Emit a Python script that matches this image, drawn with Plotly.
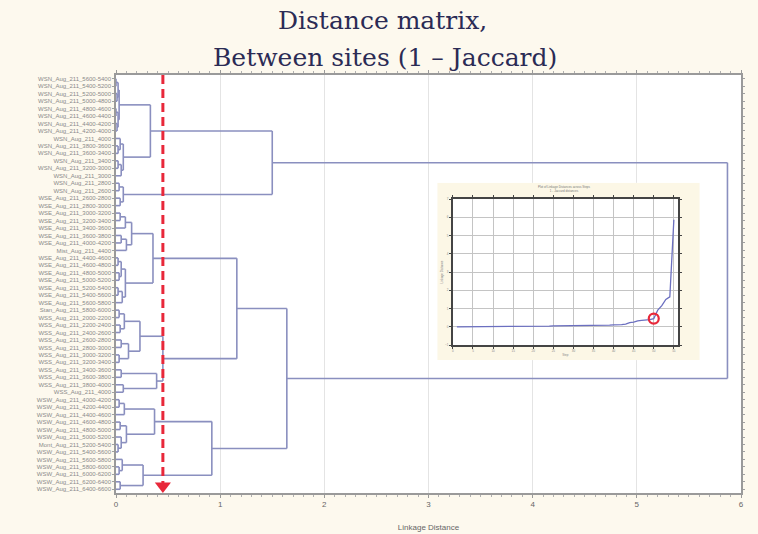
import plotly.graph_objects as go

# ---------------- data ----------------
leaf_labels = [
    "WSN_Aug_211_5600-5400", "WSN_Aug_211_5400-5200", "WSN_Aug_211_5200-5000", "WSN_Aug_211_5000-4800",
    "WSN_Aug_211_4800-4600", "WSN_Aug_211_4600-4400", "WSN_Aug_211_4400-4200", "WSN_Aug_211_4200-4000",
    "WSN_Aug_211_4000", "WSN_Aug_211_3800-3600", "WSN_Aug_211_3600-3400", "WSN_Aug_211_3400",
    "WSN_Aug_211_3200-3000", "WSN_Aug_211_3000", "WSN_Aug_211_2800", "WSN_Aug_211_2600",
    "WSE_Aug_211_2600-2800", "WSE_Aug_211_2800-3000", "WSE_Aug_211_3000-3200", "WSE_Aug_211_3200-3400",
    "WSE_Aug_211_3400-3600", "WSE_Aug_211_3600-3800", "WSE_Aug_211_4000-4200", "Mist_Aug_211_4400",
    "WSE_Aug_211_4400-4600", "WSE_Aug_211_4600-4800", "WSE_Aug_211_4800-5000", "WSE_Aug_211_5000-5200",
    "WSE_Aug_211_5200-5400", "WSE_Aug_211_5400-5600", "WSE_Aug_211_5600-5800", "Stan_Aug_211_5800-6000",
    "WSS_Aug_211_2000-2200", "WSS_Aug_211_2200-2400", "WSS_Aug_211_2400-2600", "WSS_Aug_211_2600-2800",
    "WSS_Aug_211_2800-3000", "WSS_Aug_211_3000-3200", "WSS_Aug_211_3200-3400", "WSS_Aug_211_3400-3600",
    "WSS_Aug_211_3600-3800", "WSS_Aug_211_3800-4000", "WSS_Aug_211_4000", "WSW_Aug_211_4000-4200",
    "WSW_Aug_211_4200-4400", "WSW_Aug_211_4400-4600", "WSW_Aug_211_4600-4800", "WSW_Aug_211_4800-5000",
    "WSW_Aug_211_5000-5200", "Mont_Aug_211_5200-5400", "WSW_Aug_211_5400-5600", "WSW_Aug_211_5600-5800",
    "WSW_Aug_211_5800-6000", "WSW_Aug_211_6000-6200", "WSW_Aug_211_6200-6400", "WSW_Aug_211_6400-6600",
]

# dendrogram: nested [linkage distance, left, right]; ints are leaf indices (top to bottom)
g1 = [0.03, [0.02, [0.00, 0, 1], [0.01, 2, 3]], [0.02, [0.00, 4, 5], [0.01, 6, 7]]]
g2 = [0.07, [0.04, 8, [0.02, 9, 10]], [0.05, [0.02, 11, 12], 13]]
g3 = [0.07, [0.03, 14, 15], [0.04, 16, 17]]
g4 = [0.15, [0.09, [0.04, 18, 19], 20], [0.10, [0.05, 21, 22], 23]]
g5 = [0.09, [0.05, [0.02, 24, 25], [0.03, 26, 27]], [0.06, [0.02, 28, 29], 30]]
g6 = [0.23, [0.08, [0.03, 31, 32], [0.04, 33, 34]], [0.12, [0.05, 35, 36], [0.03, 37, 38]]]
g7 = [0.39, [0.05, 39, 40], [0.07, 41, 42]]
g8 = [0.37, [0.08, [0.03, 43, 44], 45], [0.10, [0.04, 46, 47], [0.05, 48, [0.02, 49, 50]]]]
g9 = [0.26, [0.06, 51, [0.03, 52, 53]], [0.04, 54, 55]]

cluster_a = [1.50, [0.33, g1, g2], g3]
cluster_b = [1.64, [1.16, [0.355, g4, g5], [0.45, g6, g7]], [0.92, g8, g9]]
tree = [5.87, cluster_a, cluster_b]

cut_distance = 0.45
x_ticks = [0, 1, 2, 3, 4, 5, 6]

# ---------------- build dendrogram segments ----------------
seg_x, seg_y, heights = [], [], []


def walk(node):
    if isinstance(node, int):
        return float(node), 0.0
    h, a, b = node
    ya, ha = walk(a)
    yb, hb = walk(b)
    seg_x.extend([ha, h, None, hb, h, None, h, h, None])
    seg_y.extend([ya, ya, None, yb, yb, None, ya, yb, None])
    heights.append(h)
    return (ya + yb) / 2.0, h


walk(tree)
n = len(leaf_labels)
sched = sorted(heights)
steps = list(range(1, len(sched) + 1))
cut_step = max(i for i, v in zip(steps, sched) if v <= cut_distance)
cut_val = sched[cut_step - 1]

line_col = "#8a8fbf"
red = "#e8283a"

fig = go.Figure()

# main dendrogram
fig.add_trace(go.Scatter(x=seg_x, y=seg_y, mode="lines",
                         line=dict(color=line_col, width=1.6),
                         hoverinfo="skip", showlegend=False, xaxis="x", yaxis="y"))
# cut-off line + arrow
fig.add_trace(go.Scatter(x=[cut_distance, cut_distance], y=[-0.5, n - 1.6], mode="lines",
                         line=dict(color=red, width=3, dash="9px,5px"),
                         hoverinfo="skip", showlegend=False, xaxis="x", yaxis="y"))
fig.add_trace(go.Scatter(x=[cut_distance], y=[n - 1.45], mode="markers",
                         marker=dict(symbol="triangle-down", size=14, color=red),
                         cliponaxis=False, hoverinfo="skip", showlegend=False, xaxis="x", yaxis="y"))

# inset cream background (subplot 2)
fig.add_trace(go.Scatter(x=[0, 1, 1, 0, 0], y=[0, 0, 1, 1, 0], mode="lines", fill="toself",
                         fillcolor="#fcf7e6", line=dict(width=0), hoverinfo="skip",
                         showlegend=False, xaxis="x2", yaxis="y2"))

# inset amalgamation schedule (subplot 3)
fig.add_trace(go.Scatter(x=steps, y=sched, mode="lines",
                         line=dict(color="#6b6fc0", width=1.3),
                         hoverinfo="skip", showlegend=False, xaxis="x3", yaxis="y3"))
fig.add_trace(go.Scatter(x=[cut_step], y=[cut_val], mode="markers",
                         marker=dict(symbol="circle-open", size=10, color=red, line=dict(width=2.2)),
                         hoverinfo="skip", showlegend=False, xaxis="x3", yaxis="y3"))

serif = "DejaVu Serif, Liberation Serif, serif"

fig.update_layout(
    width=758, height=534,
    margin=dict(l=116, r=17, t=75, b=41),
    paper_bgcolor="#fdf9ee",
    plot_bgcolor="white",
    font=dict(family="Liberation Sans, Arial, sans-serif", color="#555"),
    xaxis=dict(range=[0, 6], tickvals=x_ticks, ticktext=[str(t) for t in x_ticks],
               showgrid=True, gridcolor="#e4e4e4", gridwidth=1, zeroline=False,
               showline=True, linecolor="#9a9a9a", linewidth=1.5, mirror="ticks",
               ticks="outside", ticklen=3, tickcolor="#9a9a9a", automargin=False,
               minor=dict(dtick=0.1, ticks="outside", ticklen=2, tickcolor="#b0b0b0", showgrid=False),
               tickfont=dict(size=8, color="#666"),
               title=dict(text="Linkage Distance", font=dict(size=8, color="#666"), standoff=16)),
    yaxis=dict(range=[n - 0.5, -0.5], tickvals=list(range(n)), ticktext=leaf_labels,
               showgrid=False, zeroline=False, showline=True, linecolor="#9a9a9a", linewidth=1.5,
               mirror="ticks", ticks="outside", ticklen=2, tickcolor="#a0a0a0", automargin=False,
               tickfont=dict(size=6, color="#8a8a8a")),
    xaxis2=dict(domain=[0.514, 0.934], range=[0, 1], anchor="y2", visible=False, fixedrange=True),
    yaxis2=dict(domain=[0.318, 0.742], range=[0, 1], anchor="x2", visible=False, fixedrange=True),
    xaxis3=dict(domain=[0.539, 0.899], range=[0, 56], dtick=5, anchor="y3",
                showgrid=True, gridcolor="#c4c4c4", gridwidth=0.6, zeroline=False,
                showline=True, linecolor="#444", linewidth=1.5, mirror="ticks",
                ticks="outside", ticklen=2, tickcolor="#444",
                tickfont=dict(size=3, color="#888"),
                title=dict(text="Step", font=dict(size=3, color="#888"), standoff=2)),
    yaxis3=dict(domain=[0.354, 0.703], range=[-1, 7], dtick=1, anchor="x3",
                showgrid=True, gridcolor="#c4c4c4", gridwidth=0.6, zeroline=False,
                showline=True, linecolor="#444", linewidth=1.5, mirror="ticks",
                ticks="outside", ticklen=2, tickcolor="#444",
                tickfont=dict(size=3, color="#888"),
                title=dict(text="Linkage Distance", font=dict(size=3, color="#888"), standoff=2)),
    shapes=[dict(type="rect", xref="x3", yref="y3", x0=0, x1=56, y0=-1, y1=7,
                 fillcolor="white", line=dict(width=0), layer="below")],
    annotations=[
        dict(text="Distance matrix,", x=0.427, y=1.13, xref="paper", yref="paper",
             showarrow=False, xanchor="center", yanchor="middle",
             font=dict(family=serif, size=25, color="#2b2b55")),
        dict(text="Between sites (1 \u2013 Jaccard)", x=0.43, y=1.042, xref="paper", yref="paper",
             showarrow=False, xanchor="center", yanchor="middle",
             font=dict(family=serif, size=25, color="#2b2b55")),
        dict(text="Plot of Linkage Distances across Steps<br>1 - Jaccard distances",
             x=0.718, y=0.728, xref="paper", yref="paper", showarrow=False,
             xanchor="center", yanchor="middle", font=dict(size=3, color="#777")),
    ],
)

fig.write_html("out.html", config={"displayModeBar": False},
               post_script="document.body.style.margin='0';document.body.style.padding='0';")
